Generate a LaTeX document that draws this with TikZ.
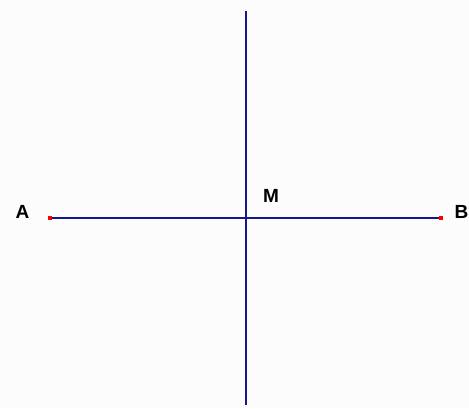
\documentclass[tikz,border=0pt]{standalone}
\usepackage{fontspec}
\setmainfont{Liberation Sans}
\usetikzlibrary{positioning}
\definecolor{ln}{RGB}{22,22,140}
\definecolor{bg}{RGB}{252,252,252}
\tikzset{
  x=1pt,y=-1pt,
  seg/.style={ln,line width=1.3pt},
  pt/.style={fill=red,inner sep=0pt,minimum size=4pt},
  lb/.style={inner sep=0pt,font=\bfseries\fontsize{19}{19}\selectfont},
}
\begin{document}
\begin{tikzpicture}
\fill[bg] (0,0) rectangle (469,408);
\useasboundingbox (0,0) rectangle (469,408);
\node[pt] (A) at (50,218){}; \node[pt] (B) at (441,218){};
\coordinate (T) at (246,11); \coordinate (D) at (246,405);
\draw[seg] (A)--(B); \draw[seg] (T)--(D);
\node[lb] (a) at (22.5,211.5){A}; \node[lb] (m) at (271,195.5){M};
\node[lb,anchor=east] (b) at (468.5,211.5){B};
\end{tikzpicture}
\end{document}
